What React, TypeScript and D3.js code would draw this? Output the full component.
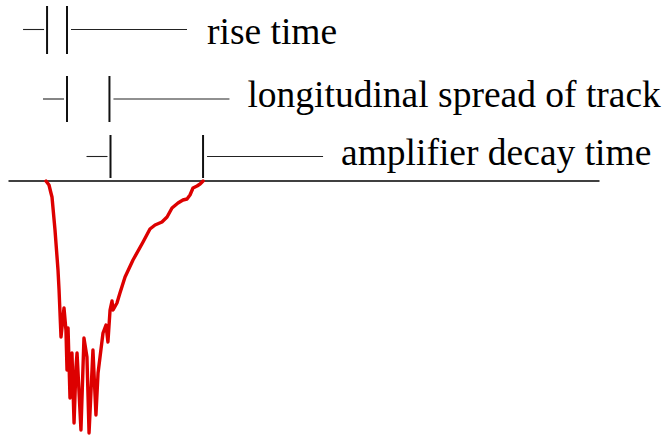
import React from "react";
import * as d3 from "d3";

// Detector pulse: time (ns) vs. amplitude (mV, negative-going)
const timeNs = [
  0, 2, 3.3, 4, 6, 8, 8.7, 10, 12, 13.3, 14, 14.7, 16, 17.3, 18.7, 20, 20.7,
  23.3, 25.3, 27.3, 28.7, 31.3, 33.3, 34.7, 38, 40, 41.3, 42.7, 44, 44.7, 47.3,
  49.3, 52.7, 58, 64.7, 69.3, 72.7, 77.3, 80.7, 84, 88, 91.3, 94, 96, 98,
  100.7, 102.7, 104.7,
];
const amplitudeMv = [
  0, -1.6, -4.8, -6.4, -19.6, -35.6, -43.6, -62.4, -50.8, -59.6, -75.6, -58.8,
  -86.8, -68.8, -96.8, -74.4, -68.8, -99.6, -62.8, -70.4, -100.8, -67.6, -93.6,
  -76.8, -60.8, -57.6, -64.4, -51.6, -48, -51.6, -48.8, -44.8, -38.4, -31.6,
  -24.4, -19.2, -17.6, -16.4, -14.4, -10.8, -8.8, -7.6, -7.2, -5.6, -2.8, -2,
  -1.2, 0,
];

// Timing intervals marked above the pulse
const intervalLabels = ["rise time", "longitudinal spread of track", "amplifier decay time"];
const intervalStart = [0.7, 14, 43];
const intervalEnd = [14, 42.3, 104.7];

const baselineRange = [-25, 369];

const W = 669;
const H = 435;

export default function App() {
  const x = d3.scaleLinear().domain([0, 105]).range([46, 203.5]);
  const y = d3.scaleLinear().domain([0, -100]).range([181, 431]);

  const points = timeNs.map((t, i) => [t, amplitudeMv[i]] as [number, number]);
  const line = d3
    .line<[number, number]>()
    .x((d) => x(d[0]))
    .y((d) => y(d[1]))
    .curve(d3.curveLinear);

  const rowY = [29.5, 99, 156.5];
  const rowTop = [6, 76, 135];
  const rowBottom = [54, 122, 178];
  const textY = [44, 107, 165];
  const textGap = [140, 138, 138];

  return (
    <svg
      width={W}
      height={H}
      style={{ position: "absolute", left: 0, top: 0, background: "#fff" }}
    >
      {intervalLabels.map((label, i) => {
        const x0 = x(intervalStart[i]);
        const x1 = x(intervalEnd[i]);
        return (
          <g key={label}>
            <line x1={x0 - 24} x2={x0 - 3} y1={rowY[i]} y2={rowY[i]} stroke="#222" strokeWidth={1.1} />
            <line x1={x0} x2={x0} y1={rowTop[i]} y2={rowBottom[i]} stroke="#111" strokeWidth={2} />
            <line x1={x1} x2={x1} y1={rowTop[i]} y2={rowBottom[i]} stroke="#111" strokeWidth={2} />
            <line x1={x1 + 4} x2={x1 + 120} y1={rowY[i]} y2={rowY[i]} stroke="#222" strokeWidth={1.1} />
            <text
              x={x1 + textGap[i]}
              y={textY[i]}
              fontFamily="'Liberation Serif', 'Times New Roman', serif"
              fontSize={37.5}
              fill="#000"
            >
              {label}
            </text>
          </g>
        );
      })}
      <line
        x1={x(baselineRange[0])}
        x2={x(baselineRange[1])}
        y1={y(0)}
        y2={y(0)}
        stroke="#000"
        strokeWidth={1.5}
      />
      <path
        d={line(points) ?? ""}
        fill="none"
        stroke="#dd0000"
        strokeWidth={3.4}
        strokeLinejoin="round"
        strokeLinecap="round"
      />
    </svg>
  );
}
